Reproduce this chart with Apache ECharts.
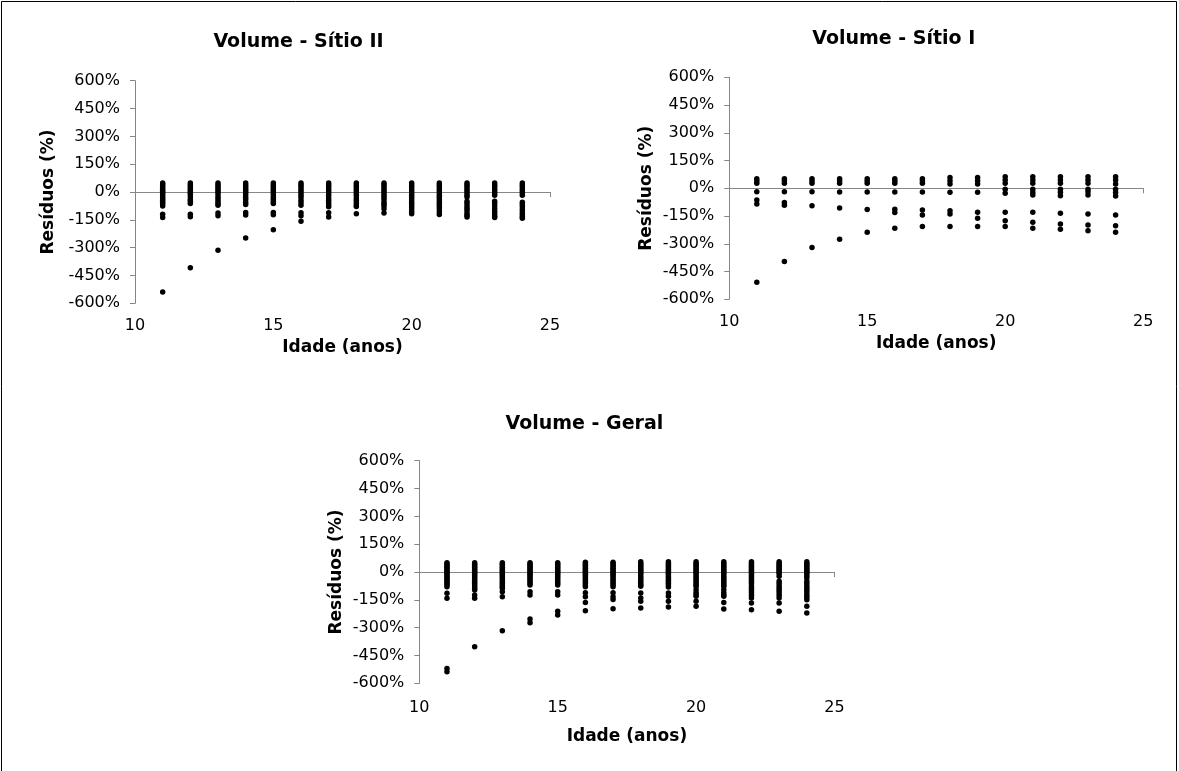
<!DOCTYPE html>
<html>
<head>
<meta charset="utf-8">
<script src="https://cdn.jsdelivr.net/npm/echarts@6/dist/echarts.min.js"></script>
<style>
html,body{margin:0;padding:0;background:#fff;}
#chart{width:1179px;height:771px;}
</style>
</head>
<body>
<div id="chart"></div>
<script>
// ---- data ----
const ages = [11, 12, 13, 14, 15, 16, 17, 18, 19, 20, 21, 22, 23, 24];

const titles = ['Volume - Sítio II', 'Volume - Sítio I', 'Volume - Geral'];
const xName = 'Idade (anos)';
const yName = 'Resíduos (%)';
const xTicks = [10, 15, 20, 25];
const yTicks = [-600, -450, -300, -150, 0, 150, 300, 450, 600];

// residuals (%) per age, Volume - Sítio II
const residSitioII = [
  [48, 40, 30, 20, 10, 2, -6, -15, -25, -35, -45, -55, -65, -76, -120, -138, -539],
  [48, 38, 28, 18, 8, -2, -12, -25, -40, -50, -62, -120, -133, -408],
  [48, 38, 28, 18, 8, -2, -15, -28, -40, -52, -63, -72, -113, -128, -314],
  [48, 38, 28, 18, 8, -3, -15, -28, -40, -55, -68, -110, -124, -248],
  [48, 38, 28, 18, 8, -3, -15, -28, -40, -52, -62, -110, -122, -203],
  [48, 38, 28, 16, 5, -5, -18, -30, -45, -58, -72, -112, -128, -158],
  [48, 38, 28, 16, 5, -5, -18, -32, -45, -58, -70, -80, -112, -135],
  [48, 38, 28, 16, 5, -5, -18, -32, -45, -58, -70, -78, -117],
  [48, 38, 28, 16, 5, -5, -18, -30, -42, -55, -65, -75, -90, -113],
  [48, 38, 28, 16, 5, -5, -18, -30, -42, -55, -68, -80, -92, -105, -117],
  [48, 38, 28, 16, 5, -5, -18, -30, -42, -55, -68, -80, -92, -106, -121],
  [48, 38, 28, 16, 5, -5, -18, -27, -50, -62, -75, -88, -100, -115, -125, -135],
  [48, 38, 28, 16, 5, -5, -18, -50, -62, -75, -90, -105, -118, -130, -138],
  [48, 38, 28, 16, 5, -5, -18, -55, -68, -80, -95, -108, -120, -132, -142]
];

// residuals (%) per age, Volume - Sítio I
const residSitioI = [
  [52, 40, 27, -18, -63, -85, -508],
  [52, 40, 27, -18, -77, -92, -396],
  [52, 40, 27, -18, -94, -320],
  [52, 40, 27, -20, -106, -275],
  [52, 40, 27, -20, -115, -238],
  [52, 40, 27, -20, -113, -131, -216],
  [52, 40, 27, -20, -117, -144, -207],
  [59, 41, 23, -22, -121, -139, -207],
  [59, 41, 23, -22, -130, -162, -207],
  [63, 45, 27, -5, -27, -130, -175, -207],
  [63, 45, 27, -5, -22, -36, -130, -184, -216],
  [63, 45, 27, -5, -22, -40, -135, -193, -221],
  [63, 45, 27, -5, -18, -36, -139, -198, -230],
  [63, 45, 23, -5, -23, -41, -144, -203, -238]
];

// residuals (%) per age, Volume - Geral
const residGeral = [
  [50, 42, 34, 26, 18, 10, 2, -6, -14, -22, -30, -38, -46, -54, -62, -70, -79, -115, -142, -520, -538],
  [50, 42, 34, 26, 18, 10, 2, -6, -14, -22, -30, -40, -50, -60, -70, -80, -90, -97, -124, -142, -403],
  [50, 42, 34, 26, 18, 10, 2, -6, -14, -22, -30, -40, -50, -60, -70, -80, -88, -106, -133, -317],
  [50, 42, 34, 26, 18, 10, 2, -6, -14, -22, -30, -40, -50, -60, -70, -106, -124, -254, -274],
  [50, 42, 34, 26, 18, 10, 2, -6, -14, -22, -30, -40, -50, -60, -70, -106, -124, -211, -232],
  [52, 44, 36, 28, 20, 12, 4, -4, -12, -20, -30, -40, -50, -60, -70, -79, -112, -133, -164, -209],
  [52, 44, 36, 28, 20, 12, 4, -4, -12, -20, -30, -40, -50, -60, -70, -79, -112, -133, -148, -198],
  [55, 46, 38, 30, 22, 14, 6, -2, -10, -20, -30, -40, -50, -60, -70, -77, -113, -140, -158, -194],
  [55, 46, 38, 30, 22, 14, 6, -2, -10, -20, -30, -40, -50, -60, -70, -81, -113, -131, -158, -189],
  [55, 46, 38, 30, 22, 14, 6, -2, -10, -20, -30, -40, -50, -60, -70, -77, -95, -110, -122, -131, -158, -185],
  [55, 46, 38, 30, 22, 14, 6, -2, -10, -20, -30, -40, -50, -60, -70, -77, -95, -110, -122, -131, -164, -200],
  [55, 46, 38, 30, 22, 14, 6, -2, -10, -20, -30, -41, -50, -62, -75, -88, -100, -112, -125, -140, -167, -203],
  [55, 46, 38, 30, 22, 14, 6, -2, -10, -23, -50, -62, -75, -88, -100, -112, -125, -140, -167, -212],
  [55, 46, 38, 30, 22, 14, 6, -2, -10, -20, -32, -50, -62, -75, -88, -100, -112, -125, -138, -149, -185, -221]
];

// ---- layout / style ----
const FONT = 'DejaVu Sans';
const AXIS_GRAY = '#868686';
const grids = [
  { left: 135, top: 80.7, width: 415, height: 222.6 },
  { left: 729.2, top: 77.3, width: 414, height: 222 },
  { left: 419.3, top: 460.7, width: 415.2, height: 222.6 }
];
const yNameGap = [78, 74, 74];
const xLabelMargin = [15, 15, 17];
const xNameGap = [36, 36, 45];
const titlePos = [[298.5, 42.5], [893.8, 39], [584.4, 424]];
const seriesData = [residSitioII, residSitioI, residGeral];

function flatten(resid) {
  const out = [];
  resid.forEach((vals, i) => vals.forEach(v => out.push([ages[i], v])));
  return out;
}

const xAxes = [], yAxes = [], series = [];
grids.forEach((g, i) => {
  // label axis (bottom)
  xAxes.push({
    type: 'value', gridIndex: i, position: 'bottom',
    min: xTicks[0], max: xTicks[xTicks.length - 1], interval: 5,
    axisLine: { show: false, onZero: false },
    axisTick: { show: false },
    splitLine: { show: false },
    axisLabel: { margin: xLabelMargin[i], fontSize: 16, fontFamily: FONT, color: '#000' },
    name: xName, nameLocation: 'middle', nameGap: xNameGap[i],
    nameTextStyle: { fontSize: 17, fontWeight: 'bold', fontFamily: FONT, color: '#000' }
  });
  // zero line axis
  xAxes.push({
    type: 'value', gridIndex: i, position: 'bottom',
    min: xTicks[0], max: xTicks[xTicks.length - 1], interval: 5,
    axisLine: { show: true, onZero: true, lineStyle: { color: AXIS_GRAY, width: 1 } },
    axisTick: { show: true, length: 5, lineStyle: { color: AXIS_GRAY } },
    axisLabel: { show: false },
    splitLine: { show: false }
  });
  yAxes.push({
    type: 'value', gridIndex: i,
    min: yTicks[0], max: yTicks[yTicks.length - 1], interval: 150,
    axisLine: { show: true, onZero: false, lineStyle: { color: AXIS_GRAY, width: 1 } },
    axisTick: { show: true, length: 5, lineStyle: { color: AXIS_GRAY } },
    splitLine: { show: false },
    axisLabel: { formatter: '{value}%', margin: 15, fontSize: 16, fontFamily: FONT, color: '#000' },
    name: yName, nameLocation: 'middle', nameGap: yNameGap[i], nameRotate: 90,
    nameTextStyle: { fontSize: 17, fontWeight: 'bold', fontFamily: FONT, color: '#000' }
  });
  series.push({
    type: 'scatter', xAxisIndex: i * 2, yAxisIndex: i,
    data: flatten(seriesData[i]),
    symbol: 'circle', symbolSize: 5.5,
    itemStyle: { color: '#000', opacity: 1 },
    silent: true, animation: false
  });
});

const graphics = [
  { type: 'rect', shape: { x: 1.5, y: 1.5, width: 1175, height: 800 },
    style: { fill: 'none', stroke: '#000', lineWidth: 1 }, silent: true }
];
titles.forEach((t, i) => {
  graphics.push({
    type: 'text', x: titlePos[i][0], y: titlePos[i][1],
    style: { text: t, align: 'center', verticalAlign: 'middle',
             font: 'bold 19px "DejaVu Sans"', fill: '#000' }
  });
});

const chart = echarts.init(document.getElementById('chart'));
chart.setOption({
  animation: false,
  backgroundColor: '#fff',
  grid: grids.map(g => Object.assign({ containLabel: false }, g)),
  xAxis: xAxes,
  yAxis: yAxes,
  series: series,
  graphic: graphics
});
</script>
</body>
</html>
